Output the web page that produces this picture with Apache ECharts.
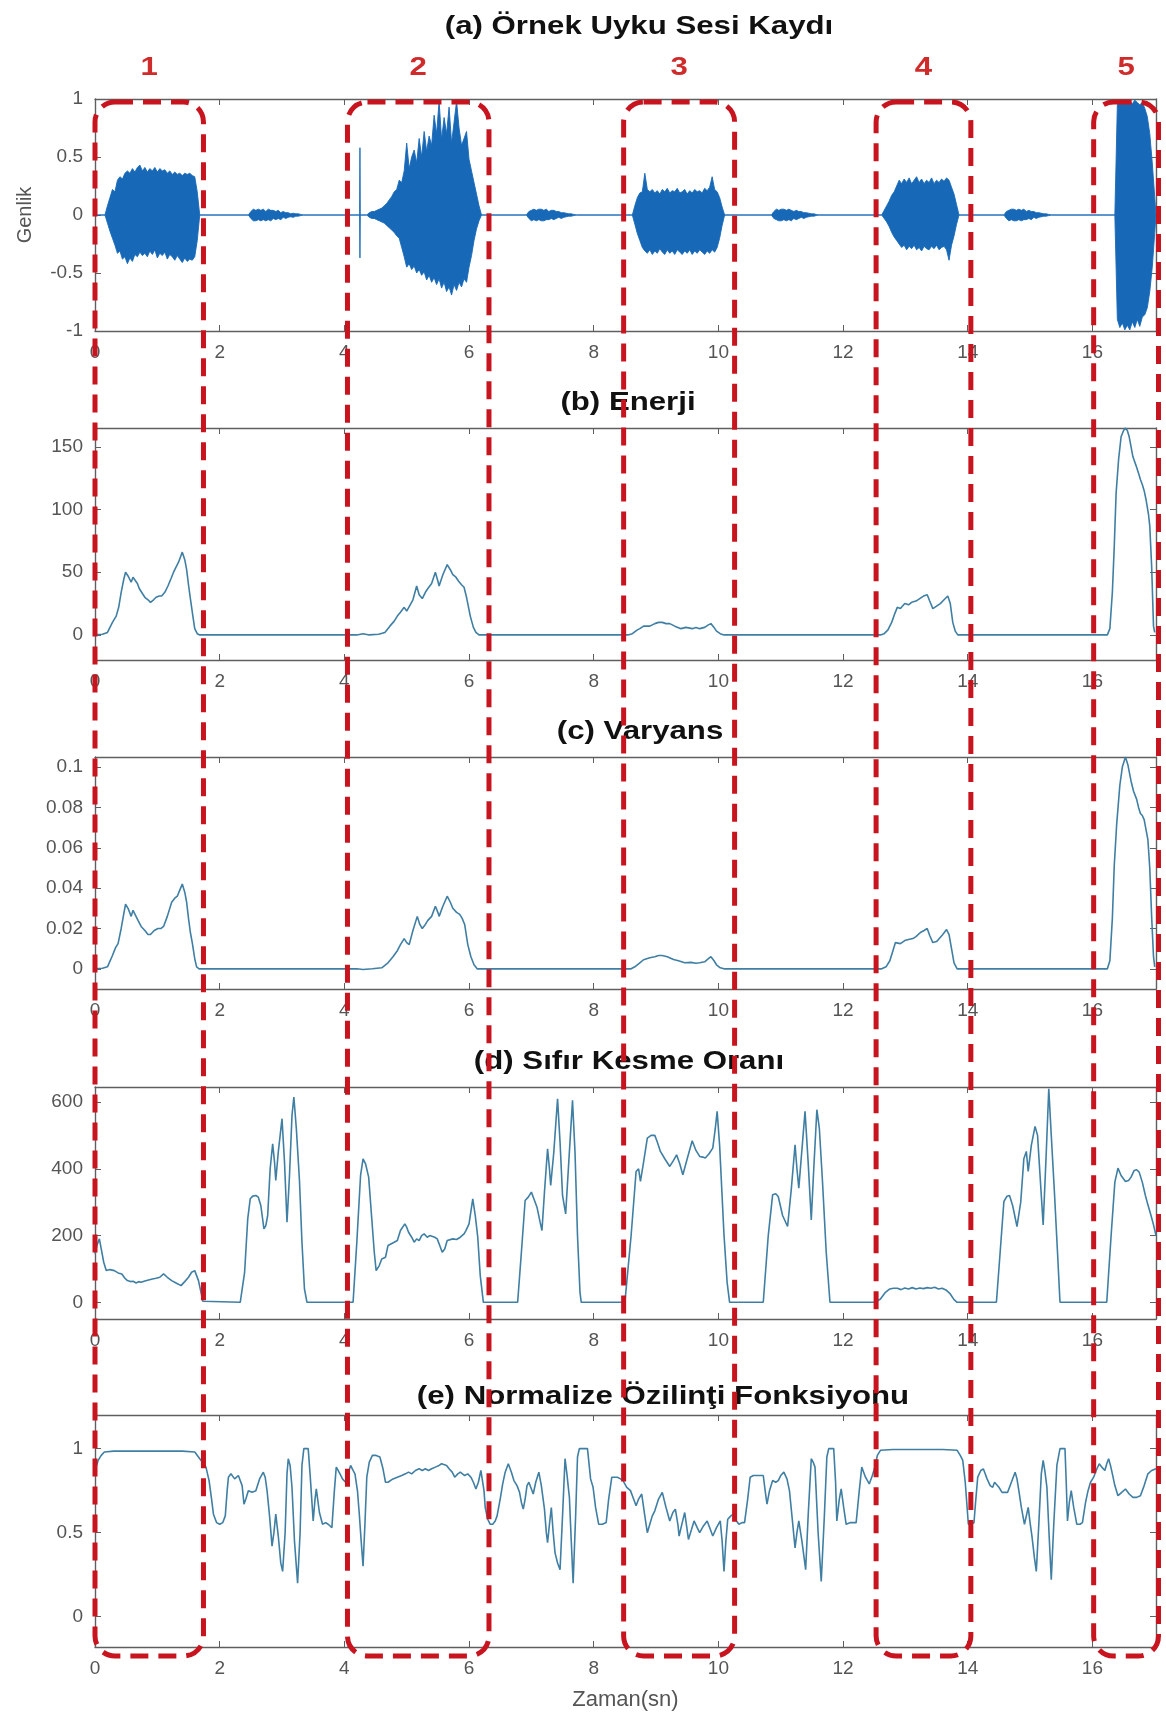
<!DOCTYPE html>
<html>
<head>
<meta charset="utf-8">
<script src="https://cdn.jsdelivr.net/npm/echarts@6/dist/echarts.min.js"></script>
<style>
  html, body { margin: 0; padding: 0; background: #ffffff; }
  #chart { width: 1166px; height: 1719px; }
</style>
</head>
<body>
<div id="chart"></div>
<script>
// ---------- time axis ----------
const X_MAX = 17.02;
const xTicks = [0, 2, 4, 6, 8, 10, 12, 14, 16];

// ---------- y ticks per panel ----------
const ampTicks = [-1, -0.5, 0, 0.5, 1];
const energyTicks = [0, 50, 100, 150];
const varTicks = [0, 0.02, 0.04, 0.06, 0.08, 0.1];
const zcrTicks = [0, 200, 400, 600];
const acfTicks = [0, 0.5, 1];

const panelTitles = [
  '(a) Örnek Uyku Sesi Kaydı',
  '(b) Enerji',
  '(c) Varyans',
  '(d) Sıfır Kesme Oranı',
  '(e) Normalize Özilinţi Fonksiyonu'
];

// snore episodes (seconds) and their numbers
const regionLabels = ['1', '2', '3', '4', '5'];
const regionSpans = [[0, 1.74], [4.05, 6.32], [8.48, 10.26], [12.53, 14.05], [16.02, 17.06]];

// ---------- (a) waveform envelope, sampled every 0.04 s from each start ----------
const waveStep = 0.04;
const seg1Start = 0.16;
const seg1Upper = [0, 0.08, 0.15, 0.22, 0.2, 0.3, 0.33, 0.31, 0.36, 0.38, 0.36, 0.4, 0.37, 0.41, 0.43, 0.38, 0.41, 0.37, 0.4, 0.38, 0.41, 0.37, 0.4, 0.38, 0.39, 0.36, 0.38, 0.35, 0.37, 0.35, 0.36, 0.34, 0.36, 0.35, 0.36, 0.34, 0.33, 0.2, 0];
const seg1Lower = [0, -0.07, -0.14, -0.2, -0.26, -0.33, -0.31, -0.38, -0.36, -0.42, -0.37, -0.4, -0.34, -0.36, -0.32, -0.35, -0.33, -0.36, -0.31, -0.34, -0.3, -0.37, -0.33, -0.35, -0.32, -0.38, -0.34, -0.36, -0.39, -0.35, -0.38, -0.41, -0.37, -0.4, -0.38, -0.39, -0.36, -0.22, 0];

const blob1Start = 2.46;
const blob1Upper = [0, 0.03, 0.05, 0.04, 0.05, 0.04, 0.05, 0.03, 0.05, 0.04, 0.04, 0.03, 0.04, 0.02, 0.03, 0.02, 0.02, 0.01, 0.015, 0.01, 0.01, 0.005, 0];
const blob1Lower = [0, -0.03, -0.05, -0.05, -0.04, -0.05, -0.04, -0.05, -0.04, -0.05, -0.03, -0.04, -0.03, -0.04, -0.02, -0.03, -0.02, -0.015, -0.02, -0.01, -0.01, -0.005, 0];

// short click just before the second episode
const clickStart = 4.245;
const clickUpper = [0, 0.58, 0];
const clickLower = [0, -0.37, 0];
const clickStep = 0.005;

const seg2Start = 4.36;
const seg2Upper = [0, 0.02, 0.03, 0.03, 0.04, 0.05, 0.06, 0.08, 0.1, 0.13, 0.16, 0.2, 0.22, 0.3, 0.28, 0.38, 0.62, 0.4, 0.5, 0.56, 0.45, 0.66, 0.5, 0.72, 0.55, 0.68, 0.6, 0.86, 0.7, 0.98, 0.65, 0.84, 0.7, 0.93, 0.62, 0.8, 0.98, 0.75, 0.6, 0.66, 0.72, 0.48, 0.38, 0.28, 0.18, 0.08, 0];
const seg2Lower = [0, -0.02, -0.03, -0.03, -0.04, -0.05, -0.06, -0.07, -0.09, -0.11, -0.13, -0.15, -0.18, -0.2, -0.28, -0.36, -0.45, -0.42, -0.47, -0.44, -0.5, -0.47, -0.52, -0.49, -0.56, -0.52, -0.58, -0.54, -0.6, -0.55, -0.63, -0.58, -0.66, -0.62, -0.69, -0.6, -0.65, -0.58, -0.62, -0.55, -0.58, -0.45, -0.35, -0.22, -0.12, -0.05, 0];

const blob2Start = 6.92;
const blob2Upper = [0, 0.03, 0.04, 0.05, 0.04, 0.05, 0.05, 0.04, 0.05, 0.03, 0.04, 0.04, 0.03, 0.03, 0.02, 0.02, 0.015, 0.01, 0.01, 0.005, 0];
const blob2Lower = [0, -0.03, -0.05, -0.04, -0.05, -0.04, -0.05, -0.05, -0.04, -0.04, -0.03, -0.04, -0.03, -0.02, -0.03, -0.02, -0.015, -0.01, -0.01, -0.005, 0];

const seg3Start = 8.62;
const seg3Upper = [0, 0.08, 0.15, 0.19, 0.2, 0.36, 0.22, 0.2, 0.22, 0.19, 0.21, 0.18, 0.22, 0.2, 0.23, 0.19, 0.21, 0.2, 0.23, 0.19, 0.2, 0.22, 0.18, 0.21, 0.19, 0.22, 0.2, 0.21, 0.19, 0.23, 0.21, 0.24, 0.33, 0.22, 0.2, 0.15, 0.07, 0];
const seg3Lower = [0, -0.08, -0.16, -0.22, -0.28, -0.31, -0.33, -0.3, -0.34, -0.31, -0.33, -0.29, -0.32, -0.34, -0.3, -0.33, -0.31, -0.34, -0.3, -0.32, -0.34, -0.31, -0.33, -0.3, -0.34, -0.31, -0.33, -0.3, -0.32, -0.34, -0.31, -0.33, -0.3, -0.32, -0.28, -0.2, -0.09, 0];

const blob3Start = 10.85;
const blob3Upper = [0, 0.03, 0.05, 0.04, 0.05, 0.05, 0.04, 0.05, 0.04, 0.03, 0.04, 0.03, 0.03, 0.02, 0.02, 0.015, 0.01, 0.01, 0.005, 0];
const blob3Lower = [0, -0.03, -0.04, -0.05, -0.05, -0.04, -0.05, -0.04, -0.05, -0.03, -0.04, -0.03, -0.02, -0.03, -0.02, -0.015, -0.01, -0.01, -0.005, 0];

const seg4Start = 12.62;
const seg4Upper = [0, 0.04, 0.08, 0.12, 0.17, 0.2, 0.25, 0.3, 0.27, 0.31, 0.28, 0.32, 0.27, 0.3, 0.33, 0.28, 0.31, 0.27, 0.3, 0.28, 0.32, 0.27, 0.3, 0.28, 0.31, 0.29, 0.32, 0.3, 0.24, 0.18, 0.09, 0];
const seg4Lower = [0, -0.03, -0.06, -0.1, -0.15, -0.19, -0.22, -0.25, -0.28, -0.26, -0.3, -0.27, -0.29, -0.26, -0.3, -0.28, -0.31, -0.27, -0.29, -0.3, -0.27, -0.29, -0.26, -0.3, -0.28, -0.27, -0.3, -0.39, -0.26, -0.18, -0.08, 0];

const blob4Start = 14.58;
const blob4Upper = [0, 0.03, 0.04, 0.05, 0.05, 0.04, 0.05, 0.04, 0.05, 0.03, 0.04, 0.03, 0.03, 0.02, 0.02, 0.015, 0.01, 0.01, 0.005, 0];
const blob4Lower = [0, -0.03, -0.05, -0.04, -0.05, -0.05, -0.04, -0.05, -0.04, -0.04, -0.03, -0.04, -0.02, -0.03, -0.02, -0.015, -0.01, -0.01, -0.005, 0];

const seg5Start = 16.36;
const seg5Upper = [0, 0.95, 0.98, 0.99, 0.97, 0.99, 0.98, 0.96, 0.99, 0.97, 0.95, 0.97, 0.92, 0.85, 0.7, 0.45, 0.15];
const seg5Lower = [0, -0.9, -0.97, -0.93, -0.99, -0.95, -0.99, -0.92, -0.97, -0.9, -0.96, -0.88, -0.86, -0.8, -0.66, -0.45, -0.15];

// ---------- (b) short-time energy [t, value] ----------
const energy = [
  [0, 0], [0.12, 0.5], [0.2, 2], [0.28, 10], [0.34, 15], [0.38, 22], [0.42, 34], [0.46, 44], [0.49, 50], [0.53, 47], [0.58, 42], [0.61, 46], [0.64, 46], [0.68, 41], [0.71, 37], [0.76, 33], [0.8, 30], [0.85, 28], [0.89, 26], [0.94, 28], [0.98, 30], [1.03, 31], [1.07, 31], [1.12, 34], [1.17, 39], [1.22, 45], [1.26, 50], [1.3, 54], [1.34, 58], [1.37, 62], [1.4, 66], [1.44, 60], [1.47, 52], [1.5, 40], [1.53, 29], [1.57, 15], [1.6, 5], [1.64, 1], [1.68, 0],
  [4.2, 0], [4.3, 1], [4.4, 0], [4.55, 0.5], [4.65, 2], [4.73, 7], [4.8, 11], [4.85, 15], [4.9, 18], [4.96, 22], [5.0, 19], [5.03, 18], [5.1, 28], [5.16, 39], [5.2, 32], [5.25, 29], [5.3, 34], [5.34, 37], [5.4, 41], [5.46, 50], [5.5, 43], [5.52, 39], [5.58, 48], [5.65, 56], [5.7, 52], [5.74, 48], [5.79, 46], [5.83, 43], [5.88, 40], [5.92, 38], [5.96, 30], [6.02, 15], [6.07, 6], [6.11, 2], [6.16, 0],
  [8.55, 0], [8.62, 1], [8.7, 4], [8.74, 5], [8.8, 7], [8.9, 7], [8.98, 9], [9.04, 10], [9.1, 10], [9.16, 9], [9.22, 9], [9.3, 7], [9.4, 5], [9.48, 6], [9.58, 5], [9.64, 6], [9.7, 5], [9.78, 6], [9.84, 8], [9.88, 9], [9.93, 6], [9.97, 3], [10.03, 1], [10.09, 0],
  [12.6, 0], [12.66, 1], [12.72, 4], [12.78, 10], [12.83, 17], [12.87, 22], [12.92, 21], [12.99, 25], [13.05, 24], [13.1, 26], [13.17, 27], [13.23, 29], [13.29, 31], [13.35, 32], [13.39, 27], [13.44, 21], [13.5, 23], [13.56, 25], [13.62, 28], [13.68, 31], [13.72, 25], [13.76, 10], [13.8, 3], [13.84, 0],
  [16.24, 0], [16.28, 5], [16.32, 34], [16.35, 70], [16.38, 113], [16.42, 140], [16.46, 158], [16.5, 163], [16.53, 165], [16.56, 163], [16.59, 158], [16.62, 150], [16.65, 142], [16.7, 135], [16.74, 129], [16.77, 124], [16.8, 120], [16.83, 115], [16.86, 108], [16.9, 96], [16.92, 87], [16.95, 55], [16.98, 7], [17.0, 2]
];

// ---------- (c) short-time variance [t, value] ----------
const variance = [
  [0, 0], [0.12, 0.0003], [0.2, 0.001], [0.28, 0.0066], [0.33, 0.0105], [0.37, 0.0125], [0.42, 0.02], [0.46, 0.027], [0.49, 0.032], [0.53, 0.03], [0.58, 0.026], [0.61, 0.029], [0.64, 0.029], [0.69, 0.024], [0.74, 0.021], [0.8, 0.019], [0.85, 0.017], [0.89, 0.017], [0.95, 0.019], [1.01, 0.02], [1.06, 0.02], [1.1, 0.021], [1.16, 0.026], [1.23, 0.033], [1.28, 0.035], [1.32, 0.036], [1.36, 0.039], [1.4, 0.042], [1.44, 0.038], [1.47, 0.033], [1.5, 0.025], [1.53, 0.018], [1.56, 0.013], [1.6, 0.005], [1.63, 0.001], [1.67, 0],
  [4.2, 0], [4.3, -0.0003], [4.45, 0], [4.6, 0.0005], [4.7, 0.003], [4.78, 0.006], [4.85, 0.009], [4.9, 0.012], [4.96, 0.015], [5.0, 0.013], [5.04, 0.012], [5.1, 0.019], [5.17, 0.026], [5.21, 0.022], [5.25, 0.02], [5.3, 0.022], [5.34, 0.024], [5.4, 0.026], [5.46, 0.031], [5.5, 0.028], [5.52, 0.026], [5.58, 0.031], [5.65, 0.036], [5.7, 0.033], [5.74, 0.03], [5.8, 0.028], [5.85, 0.027], [5.89, 0.025], [5.93, 0.022], [5.98, 0.012], [6.03, 0.006], [6.08, 0.002], [6.13, 0],
  [8.6, 0], [8.66, 0.001], [8.74, 0.003], [8.8, 0.0045], [8.9, 0.0055], [8.98, 0.006], [9.04, 0.0066], [9.1, 0.0066], [9.18, 0.006], [9.28, 0.0046], [9.36, 0.004], [9.46, 0.003], [9.56, 0.0032], [9.64, 0.0028], [9.7, 0.003], [9.78, 0.0035], [9.84, 0.005], [9.88, 0.006], [9.93, 0.004], [9.97, 0.002], [10.03, 0.0005], [10.09, 0],
  [12.62, 0], [12.69, 0.001], [12.75, 0.004], [12.8, 0.009], [12.84, 0.013], [12.87, 0.0137], [12.92, 0.0125], [12.99, 0.014], [13.05, 0.0145], [13.12, 0.015], [13.17, 0.016], [13.24, 0.018], [13.3, 0.019], [13.35, 0.02], [13.39, 0.0165], [13.44, 0.013], [13.5, 0.0135], [13.53, 0.0145], [13.6, 0.017], [13.66, 0.0195], [13.7, 0.017], [13.74, 0.01], [13.78, 0.003], [13.83, 0],
  [16.24, 0], [16.28, 0.004], [16.32, 0.025], [16.35, 0.051], [16.39, 0.072], [16.44, 0.091], [16.48, 0.1], [16.53, 0.105], [16.57, 0.101], [16.62, 0.093], [16.66, 0.088], [16.71, 0.084], [16.74, 0.08], [16.77, 0.077], [16.8, 0.076], [16.83, 0.074], [16.86, 0.069], [16.89, 0.064], [16.92, 0.05], [16.95, 0.026], [16.98, 0.006], [17.0, 0.001]
];

// ---------- (d) zero-crossing rate [t, value] ----------
const zcr = [
  [0, 145], [0.03, 170], [0.07, 190], [0.1, 160], [0.14, 120], [0.18, 95], [0.24, 98], [0.31, 95], [0.37, 88], [0.43, 85], [0.48, 72], [0.52, 65], [0.57, 62], [0.61, 63], [0.66, 58], [0.7, 62], [0.74, 60], [0.8, 64], [0.86, 67], [0.92, 70], [0.98, 72], [1.04, 75], [1.1, 85], [1.16, 75], [1.23, 65], [1.3, 58], [1.38, 50], [1.44, 62], [1.5, 75], [1.55, 90], [1.6, 95], [1.63, 80], [1.66, 65], [1.7, 30], [1.73, 3], [1.76, 0],
  [2.33, 0], [2.4, 90], [2.45, 250], [2.49, 310], [2.53, 318], [2.58, 320], [2.62, 315], [2.66, 290], [2.71, 220], [2.74, 230], [2.77, 260], [2.81, 400], [2.85, 475], [2.88, 420], [2.9, 365], [2.94, 450], [3.0, 550], [3.04, 420], [3.08, 240], [3.12, 380], [3.16, 560], [3.19, 615], [3.23, 520], [3.28, 365], [3.32, 180], [3.36, 40], [3.4, 0],
  [4.14, 0], [4.2, 180], [4.26, 380], [4.3, 430], [4.34, 415], [4.39, 375], [4.44, 250], [4.48, 150], [4.51, 95], [4.56, 110], [4.6, 130], [4.66, 135], [4.7, 170], [4.73, 175], [4.8, 180], [4.85, 185], [4.9, 215], [4.97, 235], [5.0, 225], [5.03, 210], [5.08, 195], [5.12, 180], [5.16, 190], [5.2, 185], [5.24, 200], [5.28, 205], [5.33, 195], [5.37, 200], [5.4, 200], [5.45, 195], [5.49, 190], [5.53, 170], [5.57, 150], [5.61, 160], [5.65, 185], [5.68, 190], [5.74, 190], [5.8, 188], [5.86, 195], [5.92, 205], [5.95, 215], [6.0, 235], [6.06, 310], [6.1, 260], [6.14, 195], [6.18, 80], [6.23, 0],
  [6.78, 0], [6.84, 150], [6.9, 305], [6.95, 315], [7.0, 330], [7.04, 310], [7.09, 285], [7.14, 240], [7.17, 215], [7.21, 330], [7.26, 460], [7.29, 400], [7.31, 350], [7.36, 450], [7.42, 610], [7.46, 480], [7.5, 320], [7.55, 265], [7.6, 420], [7.66, 605], [7.7, 450], [7.74, 200], [7.78, 30], [7.8, 0],
  [8.5, 0], [8.6, 200], [8.68, 392], [8.72, 400], [8.75, 362], [8.8, 420], [8.86, 492], [8.92, 500], [8.98, 500], [9.02, 480], [9.07, 452], [9.14, 430], [9.22, 407], [9.28, 425], [9.33, 442], [9.38, 415], [9.43, 382], [9.5, 430], [9.58, 484], [9.64, 455], [9.7, 437], [9.75, 435], [9.79, 432], [9.85, 445], [9.91, 462], [9.95, 520], [9.98, 572], [10.02, 470], [10.09, 202], [10.14, 60], [10.18, 0],
  [10.72, 0], [10.8, 200], [10.87, 322], [10.92, 325], [10.96, 317], [11.03, 260], [11.11, 227], [11.17, 340], [11.23, 472], [11.26, 400], [11.29, 342], [11.35, 480], [11.39, 572], [11.44, 420], [11.49, 247], [11.53, 400], [11.58, 577], [11.62, 520], [11.67, 362], [11.73, 150], [11.79, 0],
  [12.51, 0], [12.6, 10], [12.68, 30], [12.75, 40], [12.81, 42], [12.87, 42], [12.93, 38], [12.99, 43], [13.05, 40], [13.11, 44], [13.17, 40], [13.23, 43], [13.29, 41], [13.35, 44], [13.41, 42], [13.47, 45], [13.53, 40], [13.59, 42], [13.65, 37], [13.72, 25], [13.78, 8], [13.83, 0],
  [14.46, 0], [14.52, 150], [14.58, 302], [14.63, 318], [14.67, 320], [14.72, 290], [14.79, 227], [14.85, 300], [14.9, 430], [14.94, 452], [14.97, 392], [15.02, 470], [15.08, 527], [15.12, 500], [15.17, 350], [15.21, 232], [15.26, 450], [15.3, 640], [15.34, 500], [15.39, 332], [15.44, 150], [15.48, 0],
  [16.23, 0], [16.3, 200], [16.36, 360], [16.41, 402], [16.46, 380], [16.53, 362], [16.58, 365], [16.62, 375], [16.67, 395], [16.71, 397], [16.75, 390], [16.8, 360], [16.85, 320], [16.89, 292], [16.94, 260], [16.98, 232], [17.02, 200]
];

// ---------- (e) normalized autocorrelation [t, value] ----------
const acf = [
  [0, 0.87], [0.05, 0.93], [0.1, 0.96], [0.15, 0.98], [0.3, 0.985], [0.6, 0.985], [1.0, 0.985], [1.4, 0.985], [1.6, 0.98], [1.66, 0.95], [1.72, 0.92], [1.78, 0.89], [1.83, 0.81], [1.87, 0.7], [1.9, 0.61], [1.95, 0.56], [2.0, 0.55], [2.05, 0.56], [2.09, 0.6], [2.12, 0.75], [2.14, 0.83], [2.18, 0.85], [2.21, 0.84], [2.24, 0.82], [2.27, 0.81], [2.3, 0.84], [2.33, 0.85], [2.36, 0.78], [2.39, 0.67], [2.42, 0.7], [2.46, 0.75], [2.52, 0.74], [2.58, 0.75], [2.64, 0.82], [2.7, 0.86], [2.73, 0.83], [2.76, 0.75], [2.8, 0.6], [2.84, 0.42], [2.87, 0.5], [2.9, 0.61], [2.94, 0.48], [2.98, 0.32], [3.01, 0.27], [3.05, 0.5], [3.08, 0.85], [3.1, 0.94], [3.13, 0.9], [3.16, 0.77], [3.2, 0.45], [3.25, 0.2], [3.29, 0.5], [3.32, 0.9], [3.35, 1.0], [3.42, 1.0], [3.45, 0.85], [3.5, 0.57], [3.53, 0.7], [3.55, 0.76], [3.6, 0.62], [3.65, 0.55], [3.7, 0.56], [3.74, 0.55], [3.8, 0.53], [3.84, 0.75], [3.87, 0.89], [3.9, 0.87], [3.93, 0.85], [3.97, 0.82], [4.02, 0.8], [4.06, 0.85], [4.1, 0.9], [4.14, 0.87], [4.17, 0.85], [4.21, 0.75], [4.24, 0.61], [4.27, 0.45], [4.3, 0.3], [4.33, 0.55], [4.36, 0.83], [4.4, 0.92], [4.45, 0.96], [4.5, 0.96], [4.57, 0.95], [4.62, 0.88], [4.66, 0.8], [4.7, 0.8], [4.78, 0.82], [4.85, 0.83], [4.92, 0.84], [4.98, 0.85], [5.03, 0.86], [5.08, 0.85], [5.14, 0.87], [5.2, 0.88], [5.25, 0.87], [5.3, 0.88], [5.35, 0.87], [5.4, 0.88], [5.46, 0.89], [5.52, 0.9], [5.56, 0.91], [5.59, 0.92], [5.64, 0.9], [5.68, 0.88], [5.73, 0.86], [5.77, 0.83], [5.82, 0.85], [5.86, 0.86], [5.89, 0.87], [5.93, 0.84], [5.98, 0.85], [6.03, 0.83], [6.07, 0.8], [6.11, 0.76], [6.15, 0.8], [6.19, 0.87], [6.21, 0.86], [6.24, 0.75], [6.26, 0.65], [6.3, 0.58], [6.34, 0.55], [6.38, 0.55], [6.42, 0.57], [6.45, 0.6], [6.5, 0.7], [6.54, 0.79], [6.58, 0.86], [6.63, 0.91], [6.68, 0.86], [6.72, 0.81], [6.77, 0.78], [6.81, 0.74], [6.84, 0.68], [6.87, 0.64], [6.9, 0.7], [6.93, 0.78], [6.96, 0.8], [7.0, 0.76], [7.03, 0.73], [7.07, 0.8], [7.12, 0.86], [7.16, 0.78], [7.21, 0.64], [7.24, 0.5], [7.26, 0.44], [7.29, 0.55], [7.32, 0.65], [7.35, 0.5], [7.38, 0.38], [7.42, 0.32], [7.46, 0.28], [7.5, 0.6], [7.54, 0.94], [7.57, 0.85], [7.61, 0.71], [7.64, 0.45], [7.67, 0.2], [7.71, 0.6], [7.74, 0.95], [7.77, 1.0], [7.85, 1.0], [7.9, 1.0], [7.95, 0.82], [7.99, 0.77], [8.03, 0.65], [8.08, 0.55], [8.14, 0.55], [8.2, 0.56], [8.24, 0.7], [8.29, 0.83], [8.34, 0.83], [8.38, 0.83], [8.43, 0.82], [8.47, 0.81], [8.53, 0.77], [8.59, 0.75], [8.64, 0.7], [8.68, 0.66], [8.72, 0.7], [8.77, 0.73], [8.82, 0.6], [8.86, 0.5], [8.9, 0.55], [8.94, 0.6], [8.98, 0.63], [9.04, 0.7], [9.1, 0.74], [9.16, 0.65], [9.22, 0.57], [9.27, 0.62], [9.31, 0.64], [9.35, 0.55], [9.37, 0.48], [9.42, 0.56], [9.46, 0.62], [9.49, 0.54], [9.52, 0.46], [9.57, 0.52], [9.61, 0.57], [9.66, 0.53], [9.7, 0.5], [9.76, 0.54], [9.82, 0.57], [9.87, 0.52], [9.91, 0.48], [9.97, 0.53], [10.03, 0.57], [10.06, 0.45], [10.09, 0.27], [10.12, 0.45], [10.15, 0.58], [10.2, 0.6], [10.24, 0.61], [10.29, 0.57], [10.33, 0.55], [10.38, 0.56], [10.42, 0.56], [10.47, 0.7], [10.51, 0.83], [10.56, 0.84], [10.6, 0.84], [10.66, 0.84], [10.72, 0.84], [10.75, 0.75], [10.78, 0.67], [10.82, 0.75], [10.87, 0.81], [10.92, 0.8], [10.96, 0.81], [11.0, 0.84], [11.05, 0.86], [11.1, 0.82], [11.14, 0.75], [11.18, 0.6], [11.23, 0.41], [11.26, 0.5], [11.29, 0.57], [11.34, 0.45], [11.4, 0.28], [11.44, 0.6], [11.49, 0.94], [11.52, 0.92], [11.55, 0.89], [11.6, 0.5], [11.65, 0.21], [11.7, 0.6], [11.74, 0.95], [11.77, 1.0], [11.85, 1.0], [11.88, 0.8], [11.9, 0.57], [11.94, 0.7], [11.97, 0.76], [12.01, 0.65], [12.05, 0.55], [12.12, 0.56], [12.21, 0.56], [12.26, 0.75], [12.3, 0.89], [12.33, 0.86], [12.36, 0.83], [12.42, 0.79], [12.47, 0.84], [12.51, 0.89], [12.55, 0.96], [12.6, 0.99], [12.8, 0.995], [13.2, 0.995], [13.6, 0.995], [13.83, 0.99], [13.88, 0.96], [13.92, 0.93], [13.96, 0.8], [14.01, 0.55], [14.06, 0.55], [14.1, 0.56], [14.13, 0.7], [14.16, 0.83], [14.21, 0.87], [14.25, 0.88], [14.28, 0.85], [14.31, 0.82], [14.36, 0.78], [14.4, 0.77], [14.43, 0.8], [14.46, 0.81], [14.5, 0.77], [14.55, 0.74], [14.6, 0.74], [14.64, 0.74], [14.7, 0.8], [14.76, 0.86], [14.79, 0.82], [14.82, 0.75], [14.86, 0.65], [14.91, 0.55], [14.94, 0.6], [14.97, 0.65], [15.0, 0.56], [15.03, 0.48], [15.07, 0.35], [15.1, 0.27], [15.14, 0.55], [15.18, 0.85], [15.21, 0.93], [15.24, 0.86], [15.27, 0.77], [15.31, 0.45], [15.34, 0.22], [15.38, 0.55], [15.43, 0.9], [15.48, 1.0], [15.56, 1.0], [15.58, 0.8], [15.6, 0.57], [15.63, 0.68], [15.66, 0.75], [15.7, 0.65], [15.75, 0.55], [15.8, 0.55], [15.84, 0.56], [15.89, 0.68], [15.93, 0.75], [15.97, 0.8], [16.02, 0.83], [16.06, 0.87], [16.11, 0.91], [16.15, 0.89], [16.2, 0.87], [16.23, 0.91], [16.26, 0.94], [16.29, 0.9], [16.32, 0.85], [16.36, 0.78], [16.41, 0.72], [16.47, 0.74], [16.53, 0.76], [16.59, 0.73], [16.65, 0.71], [16.71, 0.71], [16.77, 0.72], [16.83, 0.78], [16.89, 0.85], [16.95, 0.87], [17.02, 0.88]
];

// ---------- assemble the waveform envelopes ----------
function envelope(parts) {
  const pts = [[0, 0]];
  parts.forEach(([start, step, vals]) => {
    vals.forEach((v, i) => pts.push([+(start + i * step).toFixed(4), v]));
  });
  pts.push([X_MAX, 0]);
  return pts;
}
const waveUpper = envelope([
  [seg1Start, waveStep, seg1Upper], [blob1Start, waveStep, blob1Upper],
  [clickStart, clickStep, clickUpper], [seg2Start, waveStep, seg2Upper],
  [blob2Start, waveStep, blob2Upper], [seg3Start, waveStep, seg3Upper],
  [blob3Start, waveStep, blob3Upper], [seg4Start, waveStep, seg4Upper],
  [blob4Start, waveStep, blob4Upper], [seg5Start, waveStep, seg5Upper]
]);
const waveLower = envelope([
  [seg1Start, waveStep, seg1Lower], [blob1Start, waveStep, blob1Lower],
  [clickStart, clickStep, clickLower], [seg2Start, waveStep, seg2Lower],
  [blob2Start, waveStep, blob2Lower], [seg3Start, waveStep, seg3Lower],
  [blob3Start, waveStep, blob3Lower], [seg4Start, waveStep, seg4Lower],
  [blob4Start, waveStep, blob4Lower], [seg5Start, waveStep, seg5Lower]
]);

// ---------- layout & styling ----------
const FONT = '"Liberation Sans", Arial, sans-serif';
const AXIS_COLOR = '#5f5f5f';
const LABEL_COLOR = '#555555';
const WAVE_COLOR = '#1769b8';
const LINE_COLOR = '#3f7fa3';
const BOX_COLOR = '#c8141e';
const NUM_COLOR = '#d02b2b';

const GRID_LEFT = 95, GRID_RIGHT = 10, GRID_H = 232;
const gridTops = [99, 428, 757, 1087, 1415];
const titleY = [27, 403, 732, 1062, 1397];
const titleX = [639, 628, 640, 629, 663];
const yRanges = [[-1, 1], [-20, 165], [-0.01, 0.105], [-50, 645], [-0.18, 1.2]];
const yTickSets = [ampTicks, energyTicks, varTicks, zcrTicks, acfTicks];

const grids = [], xAxes = [], yAxes = [];
gridTops.forEach((top, i) => {
  grids.push({ left: GRID_LEFT, right: GRID_RIGHT, top: top, height: GRID_H, show: false });
  const axisLine = { show: true, onZero: false, lineStyle: { color: AXIS_COLOR, width: 1.4 } };
  const labelStyle = { color: LABEL_COLOR, fontSize: 19, fontFamily: FONT };
  xAxes.push({
    gridIndex: i, type: 'value', min: 0, max: X_MAX, position: 'bottom',
    axisLine: axisLine,
    axisTick: { show: true, inside: true, length: 6, customValues: xTicks, lineStyle: { color: AXIS_COLOR } },
    axisLabel: Object.assign({ show: true, margin: 12, customValues: xTicks }, labelStyle),
    splitLine: { show: false },
    name: i === 4 ? 'Zaman(sn)' : '',
    nameLocation: 'middle', nameGap: 42,
    nameTextStyle: { color: LABEL_COLOR, fontSize: 22, fontFamily: FONT }
  });
  xAxes.push({
    gridIndex: i, type: 'value', min: 0, max: X_MAX, position: 'top',
    axisLine: axisLine,
    axisTick: { show: true, inside: true, length: 6, customValues: xTicks, lineStyle: { color: AXIS_COLOR } },
    axisLabel: { show: false }, splitLine: { show: false }
  });
  yAxes.push({
    gridIndex: i, type: 'value', min: yRanges[i][0], max: yRanges[i][1], position: 'left',
    axisLine: axisLine,
    axisTick: { show: true, inside: true, length: 6, customValues: yTickSets[i], lineStyle: { color: AXIS_COLOR } },
    axisLabel: Object.assign({ show: true, margin: 12, customValues: yTickSets[i] }, labelStyle),
    splitLine: { show: false },
    name: i === 0 ? 'Genlik' : '',
    nameLocation: 'middle', nameGap: 60,
    nameTextStyle: { color: LABEL_COLOR, fontSize: 20, fontFamily: FONT }
  });
  yAxes.push({
    gridIndex: i, type: 'value', min: yRanges[i][0], max: yRanges[i][1], position: 'right',
    axisLine: axisLine,
    axisTick: { show: true, inside: true, length: 6, customValues: yTickSets[i], lineStyle: { color: AXIS_COLOR } },
    axisLabel: { show: false }, splitLine: { show: false }
  });
});

function featureLine(data, panel) {
  return {
    type: 'line', data: data, xAxisIndex: panel * 2, yAxisIndex: panel * 2,
    showSymbol: false, symbol: 'none', smooth: false,
    lineStyle: { color: LINE_COLOR, width: 1.6 }, z: 3
  };
}

const series = [
  {
    type: 'line', data: waveUpper, xAxisIndex: 0, yAxisIndex: 0,
    showSymbol: false, symbol: 'none',
    lineStyle: { color: WAVE_COLOR, width: 0.9 },
    areaStyle: { color: WAVE_COLOR, opacity: 1, origin: 0 }
  },
  {
    type: 'line', data: waveLower, xAxisIndex: 0, yAxisIndex: 0,
    showSymbol: false, symbol: 'none',
    lineStyle: { color: WAVE_COLOR, width: 0.9 },
    areaStyle: { color: WAVE_COLOR, opacity: 1, origin: 0 }
  },
  featureLine(energy, 1),
  featureLine(variance, 2),
  featureLine(zcr, 3),
  featureLine(acf, 4)
];

const chart = echarts.init(document.getElementById('chart'), null, { renderer: 'canvas' });
chart.setOption({
  animation: false,
  backgroundColor: '#ffffff',
  grid: grids,
  xAxis: xAxes,
  yAxis: yAxes,
  series: series
});

// ---------- panel titles, episode boxes and numbers ----------
const graphics = [];
panelTitles.forEach((t, i) => {
  graphics.push({
    type: 'text', x: titleX[i], y: titleY[i], scaleX: 1.2, z: 50,
    style: {
      text: t, fill: '#111111', align: 'center', verticalAlign: 'middle',
      font: 'bold 26px ' + FONT
    }
  });
});

const boxTop = chart.convertToPixel({ yAxisIndex: 0 }, yRanges[0][1]) + 3;
const boxBottom = chart.convertToPixel({ yAxisIndex: 8 }, yRanges[4][0]) + 9;
regionSpans.forEach(([t0, t1], i) => {
  const x0 = chart.convertToPixel({ xAxisIndex: 0 }, t0);
  const x1 = chart.convertToPixel({ xAxisIndex: 0 }, t1);
  graphics.push({
    type: 'rect', z: 100,
    shape: { x: x0, y: boxTop, width: x1 - x0, height: boxBottom - boxTop, r: 20 },
    style: { fill: null, stroke: BOX_COLOR, lineWidth: 5, lineDash: [18, 10] }
  });
  graphics.push({
    type: 'text', x: (x0 + x1) / 2, y: 68, scaleX: 1.2, z: 100,
    style: {
      text: regionLabels[i], fill: NUM_COLOR, align: 'center', verticalAlign: 'middle',
      font: 'bold 26px ' + FONT
    }
  });
});
chart.setOption({ graphic: graphics });
</script>
</body>
</html>
